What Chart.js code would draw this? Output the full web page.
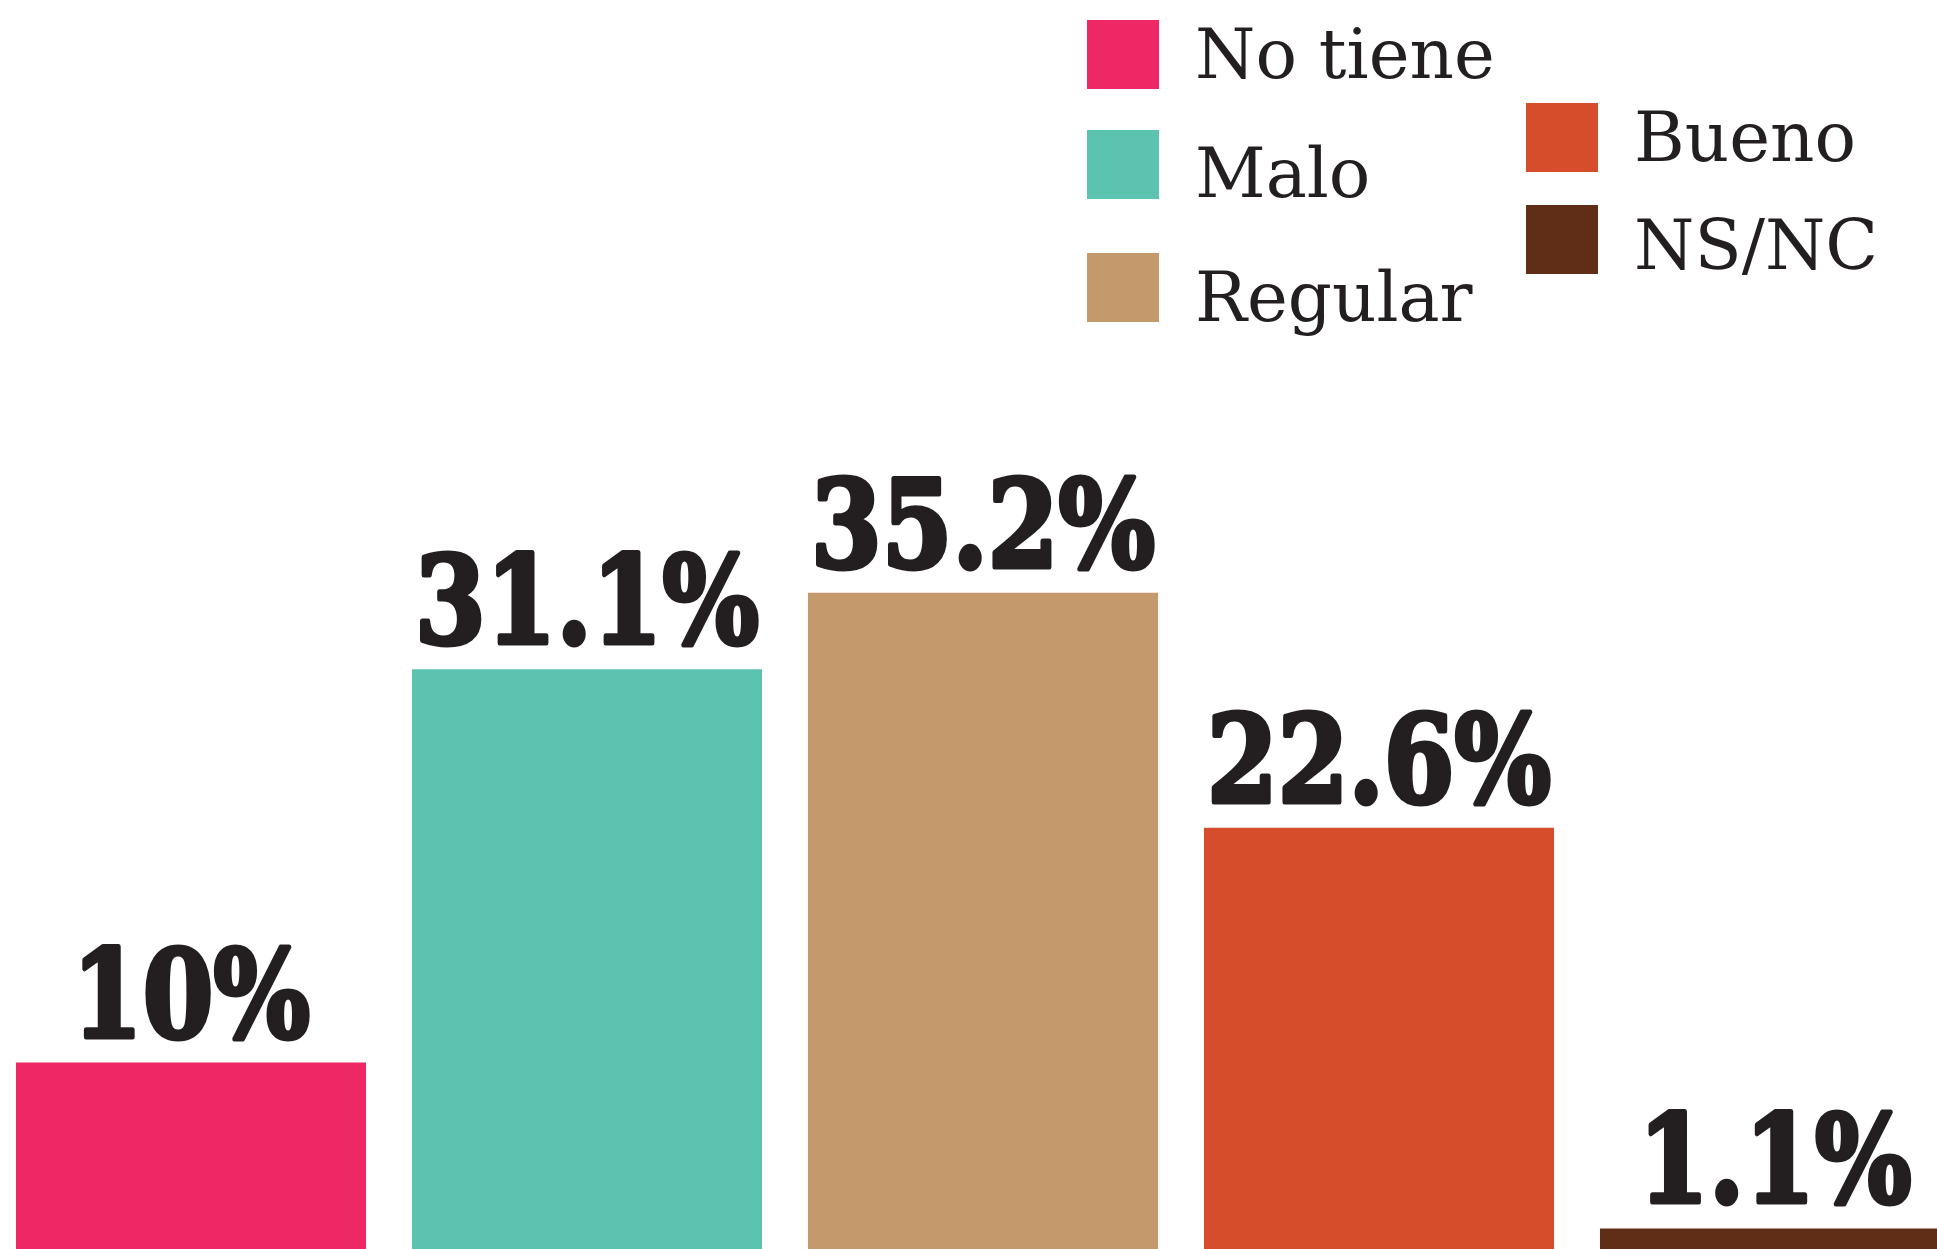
<!DOCTYPE html>
<html>
<head>
<meta charset="utf-8">
<script src="https://cdn.jsdelivr.net/npm/chart.js@4"></script>
<style>
  body { margin: 0; background: #fff; overflow: hidden; width: 1937px; height: 1249px; position: relative; }
  #wrap { position: absolute; left: -7px; top: 0; width: 1980px; height: 1249px; }
  .item { position: absolute; display: flex; align-items: flex-start; }
  .sw { width: 72px; height: 69px; flex: none; }
  .lbl { font-family: 'DejaVu Serif', serif; font-size: 69px; line-height: 69px; color: #231f20; margin-left: 36px; white-space: nowrap; position: relative; }
</style>
</head>
<body>
<div id="wrap"><canvas id="myChart" width="1980" height="1249"></canvas></div>
<div id="legend"></div>
<script>
const categories = ['No tiene', 'Malo', 'Regular', 'Bueno', 'NS/NC']
const values = [10, 31.1, 35.2, 22.6, 1.1]
const colors = ['#ee2865', '#5bc3af', '#c4996c', '#d64d2b', '#602d16']

// legend boxes in two columns: left, top, text nudge
const legendPos = [[1087, 20, 0], [1087, 130, 9], [1087, 253, 10], [1526, 103, 0], [1526, 205, 6]]

const legend = document.getElementById('legend')
categories.forEach((c, i) => {
    const el = document.createElement('div')
    el.className = 'item'
    el.style.left = legendPos[i][0] + 'px'
    el.style.top = legendPos[i][1] + 'px'
    el.innerHTML = '<div class="sw" style="background:' + colors[i] + '"></div>' +
        '<div class="lbl" style="top:' + legendPos[i][2] + 'px">' + c + '</div>'
    legend.appendChild(el)
})

const valueLabels = {
    id: 'valueLabels',
    afterDatasetsDraw(chart) {
        const ctx = chart.ctx
        const meta = chart.getDatasetMeta(0)
        ctx.save()
        ctx.fillStyle = '#231f20'
        ctx.strokeStyle = '#231f20'
        ctx.lineWidth = 5
        ctx.lineJoin = 'round'
        ctx.font = "bold 121px 'DejaVu Serif'"
        ctx.textAlign = 'center'
        ctx.textBaseline = 'alphabetic'
        meta.data.forEach((bar, i) => {
            const txt = values[i] + '%'
            ctx.save()
            ctx.translate(bar.x, bar.y - 26)
            ctx.scale(0.84, 1)
            ctx.strokeText(txt, 0, 0)
            ctx.fillText(txt, 0, 0)
            ctx.restore()
        })
        ctx.restore()
    }
}

const data = {
    labels: categories,
    datasets: [{
        label: 'Porcentaje',
        data: values,
        backgroundColor: colors,
        borderWidth: 0,
        barPercentage: 0.884,
        categoryPercentage: 1
    }]
}

new Chart(document.getElementById('myChart'), {
    type: 'bar',
    data,
    options: {
        responsive: false,
        animation: false,
        layout: { padding: 0 },
        plugins: { legend: { display: false }, tooltip: { enabled: false } },
        scales: {
            x: { display: false },
            y: { display: false, min: 0, max: 67 }
        }
    },
    plugins: [valueLabels]
})
</script>
</body>
</html>
